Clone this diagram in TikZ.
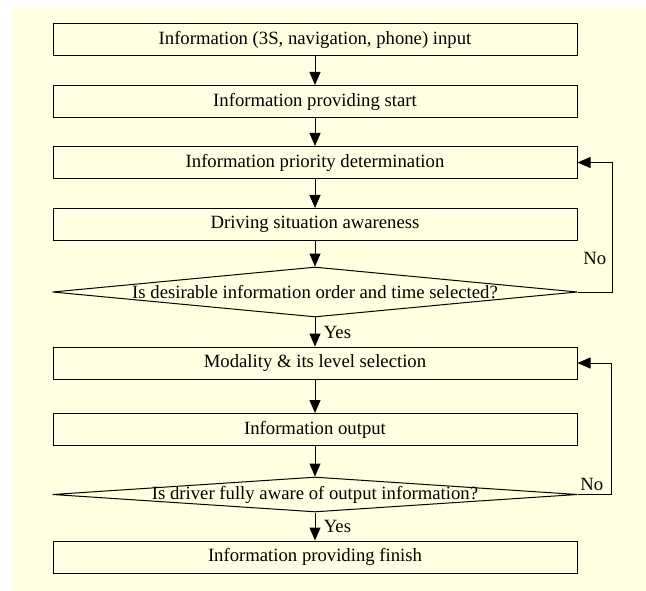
\documentclass[tikz,border=0pt]{standalone}
\usepackage{fontspec}
\setmainfont{Liberation Serif}
\usetikzlibrary{shapes,arrows.meta,positioning}
\definecolor{cream}{RGB}{255,255,225}

\begin{document}
\begin{tikzpicture}[
			x = 1pt, y = -1pt,
			> = {Triangle[length=13pt, width=11pt]},
			line width = 1pt,
			font = \fontsize{18.7}{22}\selectfont]

			\tikzstyle{process}=[
			draw = black,
			rectangle,
			fill = cream,
			minimum width = 524pt,
			minimum height = 32pt,
			inner sep = 0pt]

			\tikzstyle{decision}=[
			draw = black,
			diamond,
			fill = cream,
			minimum width = 525pt,
			inner sep = 0pt]

			\useasboundingbox (0,0) rectangle (646,591);
			\fill[cream] (13,7) rectangle (646,591);

			\node[process] (in) at (315,40) {Information (3S, navigation, phone) input};
			\node[process] (start) at (315,101.5) {Information providing start};
			\node[process] (prio) at (315,162.5) {Information priority determination};
			\node[process] (aware) at (315,224.5) {Driving situation awareness};
			\node[decision, minimum height=50pt,
			label={center:Is desirable information order and time selected?}] (q1) at (315,292) {};
			\node[process] (mod) at (315,363) {Modality \& its level selection};
			\node[process] (out) at (315,429.5) {Information output};
			\node[decision, minimum height=35pt,
			label={center:Is driver fully aware of output information?}] (q2) at (315,494.5) {};
			\node[process] (finish) at (315,557) {Information providing finish};

			\draw[->] (in) -- (start);
			\draw[->] (start) -- (prio);
			\draw[->] (prio) -- (aware);
			\draw[->] (aware) -- (q1);
			\draw[->] (q1) -- node[right=5pt] {Yes} (mod);
			\draw[->] (mod) -- (out);
			\draw[->] (out) -- (q2);
			\draw[->] (q2) -- node[right=5pt] {Yes} (finish);

			\draw[->] (q1.east) -- ++(34,0) |- node[pos=0.13, left=2pt] {No} (prio.east);
			\draw[->] (q2.east) -- ++(33,0) node[above left=0pt and 4pt] {No} |- (mod.east);
		\end{tikzpicture}
\end{document}
